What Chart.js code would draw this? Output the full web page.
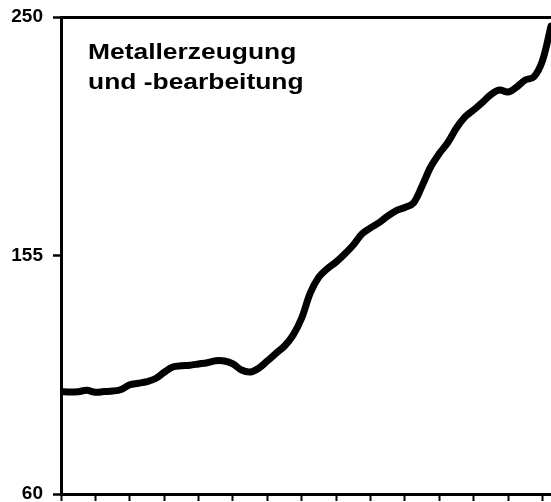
<!DOCTYPE html>
<html><head><meta charset="utf-8">
<script src="https://cdn.jsdelivr.net/npm/chart.js@4.4.0/dist/chart.umd.min.js"></script>
<style>
html,body{margin:0;padding:0;background:#fff;overflow:hidden}
#wrap{position:relative;width:551px;height:502px}
#title{position:absolute;left:88px;top:37px;font:bold 22px "Liberation Sans",Arial,sans-serif;line-height:30px;color:#000;transform:scaleX(1.2);transform-origin:0 0;white-space:nowrap}
</style></head><body>
<div id="wrap"><canvas id="c" width="551" height="502"></canvas><div id="title">Metallerzeugung<br>und -bearbeitung</div></div>
<script>
// x positions in tick units (quarters; one tick = 4 quarters)
const periods = [0,0.25,0.5,0.75,1,1.25,1.5,1.75,2,2.25,2.5,2.75,3,3.25,3.5,3.75,4,4.25,4.5,4.75,5,5.25,5.5,5.75,6,6.25,6.5,6.75,7,7.25,7.5,7.75,8,8.25,8.5,8.75,9,9.25,9.5,9.75,10,10.25,10.5,10.75,11,11.25,11.5,11.75,12,12.25,12.5,12.75,13,13.25,13.5,13.75,14,14.25];
const values = [100.75,100.6,100.75,101.3,100.5,100.8,101.0,101.6,103.5,104.1,
  104.8,106.0,108.5,110.6,111.1,111.3,111.8,112.3,113.1,113.0,
  111.8,109.4,108.6,110.1,113.0,116.0,118.95,123.3,130.1,140.1,
  146.4,149.8,152.4,155.6,159.2,163.6,166.0,168.1,170.7,172.9,
  174.1,175.9,182.7,190.25,195.6,200.0,205.8,210.2,213.0,215.9,
  219.1,220.9,220.1,222.1,224.9,226.1,232.5,246.4];
const yTicks = [60,155,250];

const data = periods.map((p,i)=>({x:p,y:values[i]}));
new Chart(document.getElementById('c'),{
  type:'line',
  data:{datasets:[{data:data,borderColor:'#000',borderWidth:7,pointRadius:0,tension:0.35,
    borderCapStyle:'round',borderJoinStyle:'round',fill:false}]},
  options:{
    responsive:false,animation:false,devicePixelRatio:1,
    layout:{padding:0,autoPadding:false},
    plugins:{legend:{display:false},tooltip:{enabled:false}},
    scales:{
      x:{type:'linear',position:'bottom',min:periods[0],max:periods[periods.length-1],
        ticks:{display:false,stepSize:1,includeBounds:false},
        grid:{drawOnChartArea:false,drawTicks:true,tickLength:7,tickWidth:2,tickColor:'#000'},
        border:{display:true,color:'#000',width:3},
        afterFit:s=>{s.height=8;s.paddingLeft=0;s.paddingRight=0;}},
      x2:{type:'linear',position:'top',min:0,max:1,
        ticks:{display:false},
        grid:{drawOnChartArea:false,drawTicks:false},
        border:{display:true,color:'#000',width:3},
        afterFit:s=>{s.height=17;s.paddingLeft=0;s.paddingRight=0;}},
      y:{type:'linear',min:yTicks[0],max:yTicks[yTicks.length-1],
        afterBuildTicks:s=>{s.ticks=yTicks.map(v=>({value:v}));},
        ticks:{color:'#000',font:{family:'"Liberation Sans", Arial, sans-serif',size:19,weight:'bold'},padding:10},
        grid:{drawOnChartArea:false,drawTicks:true,tickLength:8,tickWidth:2.5,tickColor:'#000'},
        border:{display:true,color:'#000',width:3},
        afterFit:s=>{s.width=61;s.paddingTop=0;s.paddingBottom=0;}}
    }
  }
});
</script>
</body></html>
